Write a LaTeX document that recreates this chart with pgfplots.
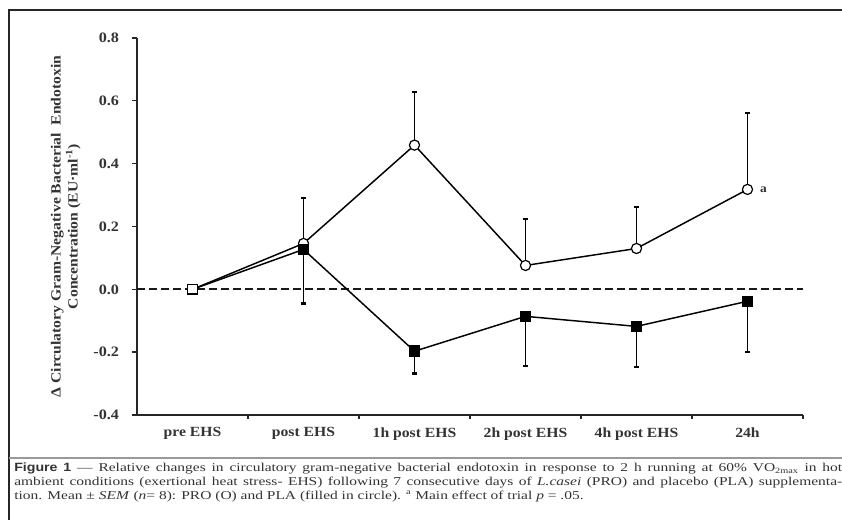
\documentclass[border=0pt]{standalone}
\usepackage{pgfplots}
\pgfplotsset{compat=1.18}
\usepackage{fontspec}
\setmainfont{Liberation Serif}[FakeStretch=1.12]
\newfontfamily\capserif{Liberation Serif}[FakeStretch=1.29]
\newfontfamily\capsans{Liberation Sans}[FakeStretch=1.18]
\definecolor{txt}{gray}{0.2}
\begin{document}
\begin{tikzpicture}
\begin{axis}[
  name=ax, scale only axis,
  width=499.5pt, height=282.75pt,
  xmin=-0.5, xmax=5.5, ymin=-0.4, ymax=0.8,
  axis lines=left,
  axis line style={-, line width=1.2pt, draw=black!85},
  tick align=outside,
  xtick={0,1,2,3,4,5},
  xticklabels={pre EHS,post EHS,1h post EHS,2h post EHS,4h post EHS,24h},
  major x tick style={draw=none},
  minor xtick={0.5,1.5,2.5,3.5,4.5,5.5},
  minor tick length=3pt,
  minor x tick style={line width=1pt, draw=black!85},
  ytick={-0.4,-0.2,0,0.2,0.4,0.6,0.8},
  yticklabels={-0.4,-0.2,0.0,0.2,0.4,0.6,0.8},
  major tick length=4pt,
  major y tick style={line width=1pt, draw=black!85},
  xticklabel style={font=\fontsize{10.5}{12}\selectfont\bfseries, text=txt, yshift=-2pt},
  yticklabel style={font=\fontsize{10.8}{12}\selectfont\bfseries, text=txt, xshift=-6pt},
  ylabel={Δ Circulatory Gram-Negative Bacterial\ \ Endotoxin\\Concentration (EU·ml\textsuperscript{-1})},
  ylabel style={at={(axis description cs:-0.107,0.5)}, anchor=center, align=center,
    font=\fontsize{10.5}{12.75}\selectfont\bfseries, text=txt},
  clip=false,
]
\coordinate (O) at (axis cs:-0.5,-0.4);
\addplot[black!90, line width=1.6pt, dash pattern=on 6pt off 3pt] coordinates {(-0.5,0) (5.5,0)};
% PRO (open circles)
\addplot[black, line width=1.1pt, mark=*, mark size=3.8pt, mark indices={2,3,4,5,6},
  mark options={fill=white, draw=black, line width=0.9pt},
  error bars/.cd, y dir=plus, y explicit,
  error bar style={line width=1.1pt, black},
  error mark options={rotate=90, line width=1.6pt, mark size=1.7pt, black}]
coordinates {
(0,0) +- (0,0)
(1,0.146) +- (0,0.144)
(2,0.459) +- (0,0.168)
(3,0.076) +- (0,0.147)
(4,0.130) +- (0,0.131)
(5,0.318) +- (0,0.242)
};
% PLA (filled squares)
\addplot[black, line width=1.1pt, mark=square*, mark size=4pt, mark indices={2,3,4,5,6},
  mark options={fill=black, draw=black, line width=0.6pt},
  error bars/.cd, y dir=minus, y explicit,
  error bar style={line width=1.1pt, black},
  error mark options={rotate=90, line width=1.6pt, mark size=1.7pt, black}]
coordinates {
(0,0) +- (0,0)
(1,0.127) +- (0,0.172)
(2,-0.197) +- (0,0.071)
(3,-0.086) +- (0,0.159)
(4,-0.118) +- (0,0.130)
(5,-0.038) +- (0,0.162)
};
\addplot[only marks, mark=square*, mark size=3.6pt, mark options={fill=white, draw=black, line width=1pt}] coordinates {(0,0)};
\node[anchor=west, font=\fontsize{9}{10}\selectfont\bfseries, text=txt, xshift=6pt] at (axis cs:5,0.318) {a};
\end{axis}
\begin{scope}[shift={(O)}, xshift=-102.75pt, yshift=-78.75pt, x=0.75pt, y=0.75pt]
\draw[black!85, line width=1.5pt] (9,-2) -- (9,510) -- (844,510);
\draw[black!40, line width=1pt] (9,62) -- (844,62);
\node[anchor=north west, text width=621pt, align=justify, inner sep=0pt, text=txt,
  font=\capserif\fontsize{9}{10.2}\selectfont] at (14,57) {%
{\capsans\bfseries Figure 1} — Relative changes in circulatory gram-negative bacterial endotoxin in response to 2 h running at 60\% VO\textsubscript{2max} in hot\linebreak
ambient conditions (exertional heat stress- EHS) following 7 consecutive days of \textit{L.casei} (PRO) and placebo (PLA) supplementa-\linebreak
tion. Mean ± \textit{SEM} (\textit{n}= 8): PRO (O) and PLA (filled in circle). \textsuperscript{a} Main effect of trial \textit{p} = .05.};
\pgfresetboundingbox
\useasboundingbox (0,0) rectangle (842,520);
\end{scope}
\end{tikzpicture}
\end{document}
